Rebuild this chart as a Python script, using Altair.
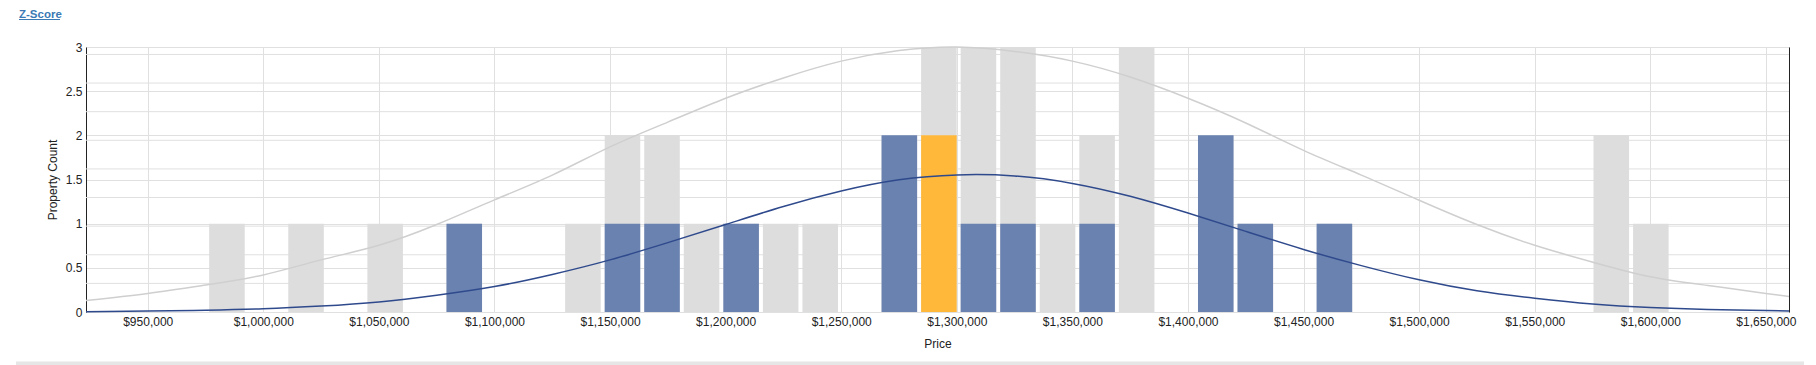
import altair as alt
import pandas as pd

# ---------------- data ----------------
BIN_WIDTH = 17110
bin_start = [975500, 1009720, 1043940, 1078160, 1129490, 1146600, 1163710,
             1180820, 1197930, 1215040, 1232150, 1266370, 1283480, 1300590,
             1317700, 1334810, 1351920, 1369030, 1403250, 1420360, 1454580,
             1574350, 1591460]
all_count = [1, 1, 1, 1, 1, 2, 2, 1, 1, 1, 1, 2, 3, 3, 3, 1, 2, 3, 2, 1, 1, 2, 1]
comp_count = [0, 0, 0, 1, 0, 1, 1, 0, 1, 0, 0, 2, 0, 1, 1, 0, 1, 0, 2, 1, 1, 0, 0]
subject_count = [0, 0, 0, 0, 0, 0, 0, 0, 0, 0, 0, 0, 2, 0, 0, 0, 0, 0, 0, 0, 0, 0, 0]

curve_price = [923300, 950000, 975000, 1000000, 1025000, 1050000, 1075000,
               1100000, 1125000, 1150000, 1175000, 1200000, 1225000, 1250000,
               1275000, 1300000, 1325000, 1350000, 1375000, 1400000, 1425000,
               1450000, 1475000, 1500000, 1525000, 1550000, 1575000, 1600000,
               1625000, 1650000, 1660000]
all_curve = [0.13, 0.21, 0.305, 0.42, 0.59, 0.755, 0.99, 1.27, 1.55, 1.87,
             2.15, 2.42, 2.65, 2.84, 2.96, 3.0, 2.95, 2.84, 2.66, 2.42, 2.14,
             1.83, 1.55, 1.265, 0.99, 0.755, 0.565, 0.40, 0.30, 0.21, 0.175]
comp_curve = [0.004, 0.01, 0.02, 0.036, 0.067, 0.114, 0.19, 0.288, 0.425, 0.59,
              0.785, 0.99, 1.195, 1.37, 1.497, 1.552, 1.54, 1.456, 1.31, 1.12,
              0.913, 0.708, 0.525, 0.364, 0.24, 0.155, 0.09, 0.05, 0.028,
              0.016, 0.012]

x_ticks = [950000, 1000000, 1050000, 1100000, 1150000, 1200000, 1250000,
           1300000, 1350000, 1400000, 1450000, 1500000, 1550000, 1600000,
           1650000]
y_ticks = [0, 0.5, 1, 1.5, 2, 2.5, 3]
secondary_ticks = [1, 2, 3, 4, 5, 6, 7, 8, 9]
X_DOMAIN = [923300, 1660000]
Y_DOMAIN = [0, 3]
Y2_DOMAIN = [0, 9.26]

TITLE = "Z-Score"
X_TITLE = "Price"
Y_TITLE = "Property Count"

# ---------------- tables ----------------
bars = pd.DataFrame({
    "bin_start": bin_start,
    "bin_end": [s + BIN_WIDTH for s in bin_start],
    "all": all_count,
    "comp": comp_count,
    "subject": subject_count,
})
curves = pd.DataFrame({"price": curve_price, "all": all_curve, "comp": comp_curve})
grid2 = pd.DataFrame({"g": secondary_ticks})
deco = pd.DataFrame({"t": [TITLE]})

FONT = "Liberation Sans"
GRID = "#e0e0e0"
W, H = 1703, 265

x_scale = alt.Scale(domain=X_DOMAIN, nice=False, zero=False)
y_scale = alt.Scale(domain=Y_DOMAIN, nice=False)
x_axis = alt.Axis(values=x_ticks, format="$,.0f", grid=True, gridColor=GRID,
                  ticks=False, tickSize=0, domain=False, labelPadding=4,
                  labelFlush=False, labelOverlap=False, labelFontSize=12,
                  labelColor="#222", title=X_TITLE, titleFontSize=12,
                  titleFontWeight="normal", titleColor="#222",
                  titleBaseline="middle", titleY=31)
y_axis = alt.Axis(values=y_ticks, format="~g", grid=True, gridColor=GRID,
                  ticks=False, tickSize=0, domain=True, domainColor="#222",
                  labelPadding=4, labelFontSize=12, labelColor="#222",
                  title=Y_TITLE, titleFontSize=12, titleFontWeight="normal",
                  titleColor="#222", titleAngle=270, titleBaseline="middle",
                  titleAlign="center", titleX=-34, titleY=H / 2)

def xb():
    return alt.X("bin_start:Q", bin="binned", scale=x_scale, axis=x_axis)

gray_bars = alt.Chart(bars).mark_bar(color="#dddddd", binSpacing=4).encode(
    x=xb(), x2="bin_end:Q",
    y=alt.Y("all:Q", scale=y_scale, axis=y_axis))
blue_bars = alt.Chart(bars).transform_filter("datum.comp > 0").mark_bar(
    color="#6a82b0", binSpacing=4).encode(
    x=xb(), x2="bin_end:Q",
    y=alt.Y("comp:Q", scale=y_scale, axis=y_axis))
orange_bars = alt.Chart(bars).transform_filter("datum.subject > 0").mark_bar(
    color="#ffb83a", binSpacing=4).encode(
    x=xb(), x2="bin_end:Q",
    y=alt.Y("subject:Q", scale=y_scale, axis=y_axis))
gray_line = alt.Chart(curves).mark_line(
    color="#cfcfcf", strokeWidth=1.5, interpolate="natural").encode(
    x=alt.X("price:Q", scale=x_scale, axis=x_axis),
    y=alt.Y("all:Q", scale=y_scale, axis=y_axis))
blue_line = alt.Chart(curves).mark_line(
    color="#2f4a8c", strokeWidth=1.5, interpolate="natural").encode(
    x=alt.X("price:Q", scale=x_scale, axis=x_axis),
    y=alt.Y("comp:Q", scale=y_scale, axis=y_axis))

title_text = alt.Chart(deco).mark_text(
    align="left", baseline="alphabetic", font=FONT, fontSize=11.5,
    fontWeight="bold", color="#3b7ab5").encode(
    x=alt.value(-67), y=alt.value(-29), text="t:N")
title_underline = alt.Chart(deco).mark_rule(color="#3b7ab5", strokeWidth=1).encode(
    x=alt.value(-67), x2=alt.value(-26), y=alt.value(-27.5))
bottom_band = alt.Chart(deco).mark_rule(color="#e6e6e6", strokeWidth=4).encode(
    x=alt.value(-70), x2=alt.value(1726), y=alt.value(316.5))

primary = alt.layer(gray_bars, blue_bars, orange_bars, gray_line, blue_line,
                    title_text, title_underline, bottom_band)

secondary = alt.Chart(grid2).mark_rule(color=GRID, strokeWidth=1).encode(
    y=alt.Y("g:Q", scale=alt.Scale(domain=Y2_DOMAIN, nice=False),
            axis=alt.Axis(orient="right", labels=False, ticks=False, grid=False,
                          domain=True, domainColor="#222", title=None)))

chart = alt.layer(secondary, primary).resolve_scale(y="independent").properties(
    width=W, height=H,
    autosize=alt.AutoSizeParams(type="none"),
    padding={"left": 78, "top": 39, "right": 15, "bottom": 53},
).configure_view(stroke=None).configure(font=FONT)

chart.save("out.html", embed_options={"renderer": "svg", "actions": False})
